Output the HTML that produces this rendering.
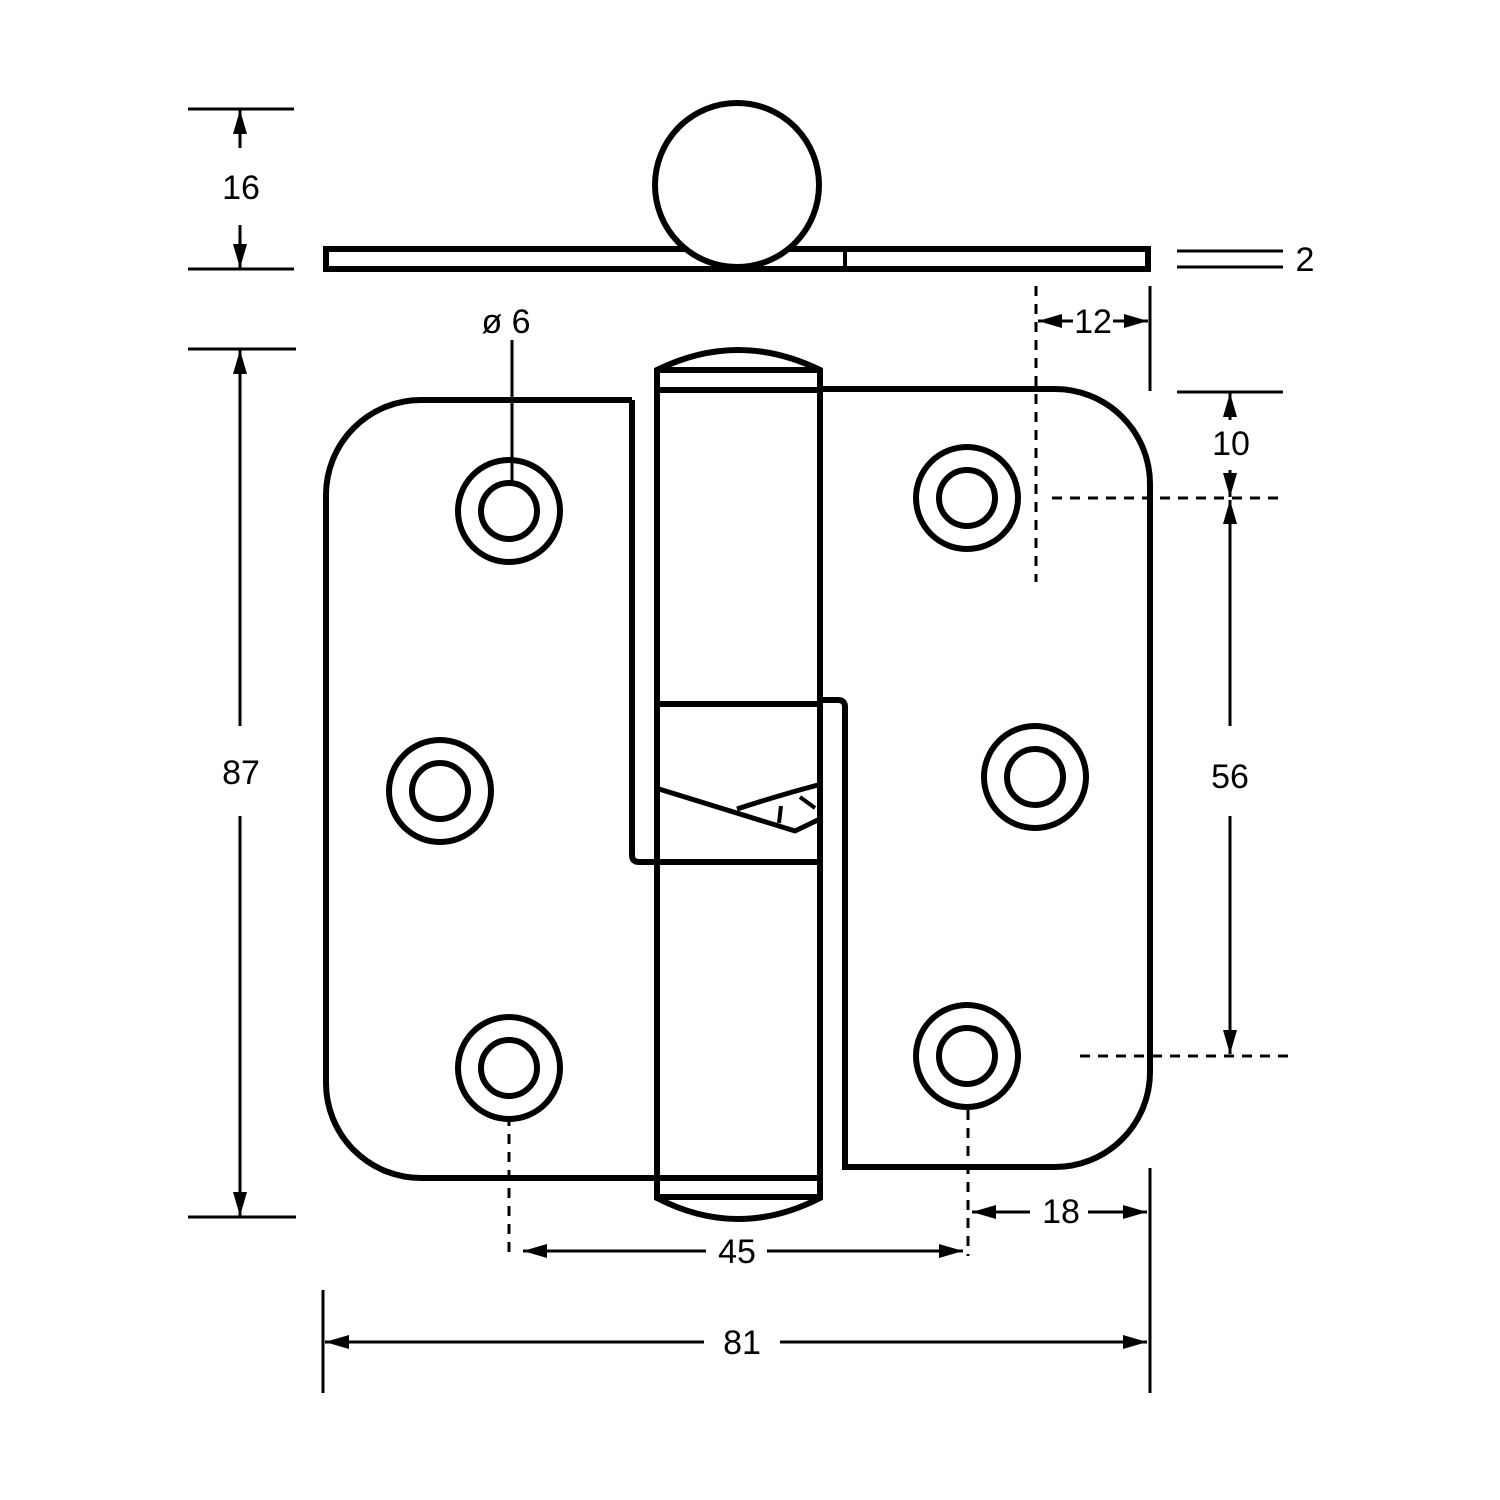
<!DOCTYPE html>
<html><head><meta charset="utf-8"><style>html,body{margin:0;padding:0;background:#fff}svg{display:block}</style></head>
<body>
<svg width="1500" height="1500" viewBox="0 0 1500 1500" xmlns="http://www.w3.org/2000/svg" font-family="Liberation Sans, DejaVu Sans, sans-serif" fill="none" stroke="#000">
<defs>
<marker id="a" viewBox="0 0 24 14" refX="24" refY="7" markerWidth="24" markerHeight="14" markerUnits="userSpaceOnUse" orient="auto-start-reverse"><path d="M0,0 L24,7 L0,14 Z" fill="#000" stroke="none"/></marker>
</defs>
<!-- top view -->
<rect x="326" y="249" width="822" height="20" stroke-width="6" fill="#fff"/>
<line x1="845" y1="249" x2="845" y2="269" stroke-width="4"/>
<circle cx="737" cy="185" r="82" stroke-width="6" fill="#fff"/>
<!-- 16 -->
<g stroke-width="3">
<line x1="188" y1="109" x2="294" y2="109"/>
<line x1="188" y1="269" x2="294" y2="269"/>
<line x1="240" y1="148" x2="240" y2="110" marker-end="url(#a)"/>
<line x1="240" y1="225" x2="240" y2="268" marker-end="url(#a)"/>
<!-- 2 -->
<line x1="1177" y1="251" x2="1283" y2="251"/>
<line x1="1177" y1="267" x2="1283" y2="267"/>
<!-- 87 -->
<line x1="188" y1="349" x2="296" y2="349"/>
<line x1="188" y1="1217" x2="296" y2="1217"/>
<line x1="240" y1="726" x2="240" y2="350" marker-end="url(#a)"/>
<line x1="240" y1="816" x2="240" y2="1216" marker-end="url(#a)"/>
<!-- 12 -->
<line x1="1150" y1="286" x2="1150" y2="391"/>
<line x1="1073" y1="321" x2="1038" y2="321" marker-end="url(#a)"/>
<line x1="1113" y1="321" x2="1148" y2="321" marker-end="url(#a)"/>
<!-- 10 / 56 -->
<line x1="1177" y1="392" x2="1283" y2="392"/>
<line x1="1230" y1="420" x2="1230" y2="393" marker-end="url(#a)"/>
<line x1="1230" y1="470" x2="1230" y2="497" marker-end="url(#a)"/>
<line x1="1230" y1="726" x2="1230" y2="500" marker-end="url(#a)"/>
<line x1="1230" y1="816" x2="1230" y2="1054" marker-end="url(#a)"/>
<!-- 18 -->
<line x1="1150" y1="1168" x2="1150" y2="1393"/>
<line x1="323" y1="1290" x2="323" y2="1393"/>
<line x1="1030" y1="1212" x2="972" y2="1212" marker-end="url(#a)"/>
<line x1="1088" y1="1212" x2="1147" y2="1212" marker-end="url(#a)"/>
<!-- 45 -->
<line x1="706" y1="1251" x2="523" y2="1251" marker-end="url(#a)"/>
<line x1="767" y1="1251" x2="963" y2="1251" marker-end="url(#a)"/>
<!-- 81 -->
<line x1="704" y1="1342" x2="325" y2="1342" marker-end="url(#a)"/>
<line x1="780" y1="1342" x2="1147" y2="1342" marker-end="url(#a)"/>
</g>
<!-- dashed -->
<g stroke-width="3" stroke-dasharray="10,8">
<line x1="1036" y1="286" x2="1036" y2="582"/>
<line x1="1052" y1="498" x2="1286" y2="498"/>
<line x1="1080" y1="1056" x2="1296" y2="1056"/>
<line x1="509" y1="1116" x2="509" y2="1254"/>
<line x1="968" y1="1110" x2="968" y2="1256"/>
</g>
<!-- leaves -->
<g stroke-width="6">
<path d="M632,400 H421 A95,95 0 0 0 326,495 V1083 A95,95 0 0 0 421,1178 H657"/>
<path d="M632,400 V855 Q632,862 639,862 H657"/>
<path d="M820,389 H1055 A95,95 0 0 1 1150,484 V1072 A95,95 0 0 1 1055,1167 H845 V707 Q845,700 838,700 H820"/>
<!-- knuckle -->
<path d="M657,1198 V370 Q738,330 820,370 V1198 Q738,1240 657,1198 Z" fill="#fff"/>
<line x1="657" y1="370" x2="820" y2="370"/>
<line x1="657" y1="390" x2="820" y2="390"/>
<line x1="657" y1="1178" x2="820" y2="1178"/>
<line x1="657" y1="1197" x2="820" y2="1197"/>
<line x1="657" y1="704" x2="820" y2="704"/>
<line x1="657" y1="862" x2="820" y2="862"/>
<path d="M659,789 L795,831 L820,819" stroke-width="5"/>
<path d="M737,809 Q780,795 818,785" stroke-width="5"/>
<path d="M781,806 L779,823 M800,797 L815,808" stroke-width="4"/>
</g>
<!-- holes -->
<g stroke-width="6" fill="#fff">
<circle cx="509" cy="511" r="51"/><circle cx="509" cy="511" r="28"/>
<circle cx="967" cy="498" r="51"/><circle cx="967" cy="498" r="28"/>
<circle cx="440" cy="791" r="51"/><circle cx="440" cy="791" r="28"/>
<circle cx="1035" cy="777" r="51"/><circle cx="1035" cy="777" r="28"/>
<circle cx="509" cy="1068" r="51"/><circle cx="509" cy="1068" r="28"/>
<circle cx="967" cy="1056" r="51"/><circle cx="967" cy="1056" r="28"/>
</g>
<line x1="512" y1="340" x2="512" y2="484" stroke-width="3"/>
<!-- labels -->
<g fill="#000" stroke="none" font-size="34" text-anchor="middle">
<text x="241" y="199">16</text>
<text x="1305" y="271">2</text>
<text x="506" y="333">ø 6</text>
<text x="1093" y="333">12</text>
<text x="1231" y="455">10</text>
<text x="241" y="784">87</text>
<text x="1230" y="788">56</text>
<text x="1061" y="1223">18</text>
<text x="737" y="1263">45</text>
<text x="742" y="1354">81</text>
</g>
</svg>
</body></html>
